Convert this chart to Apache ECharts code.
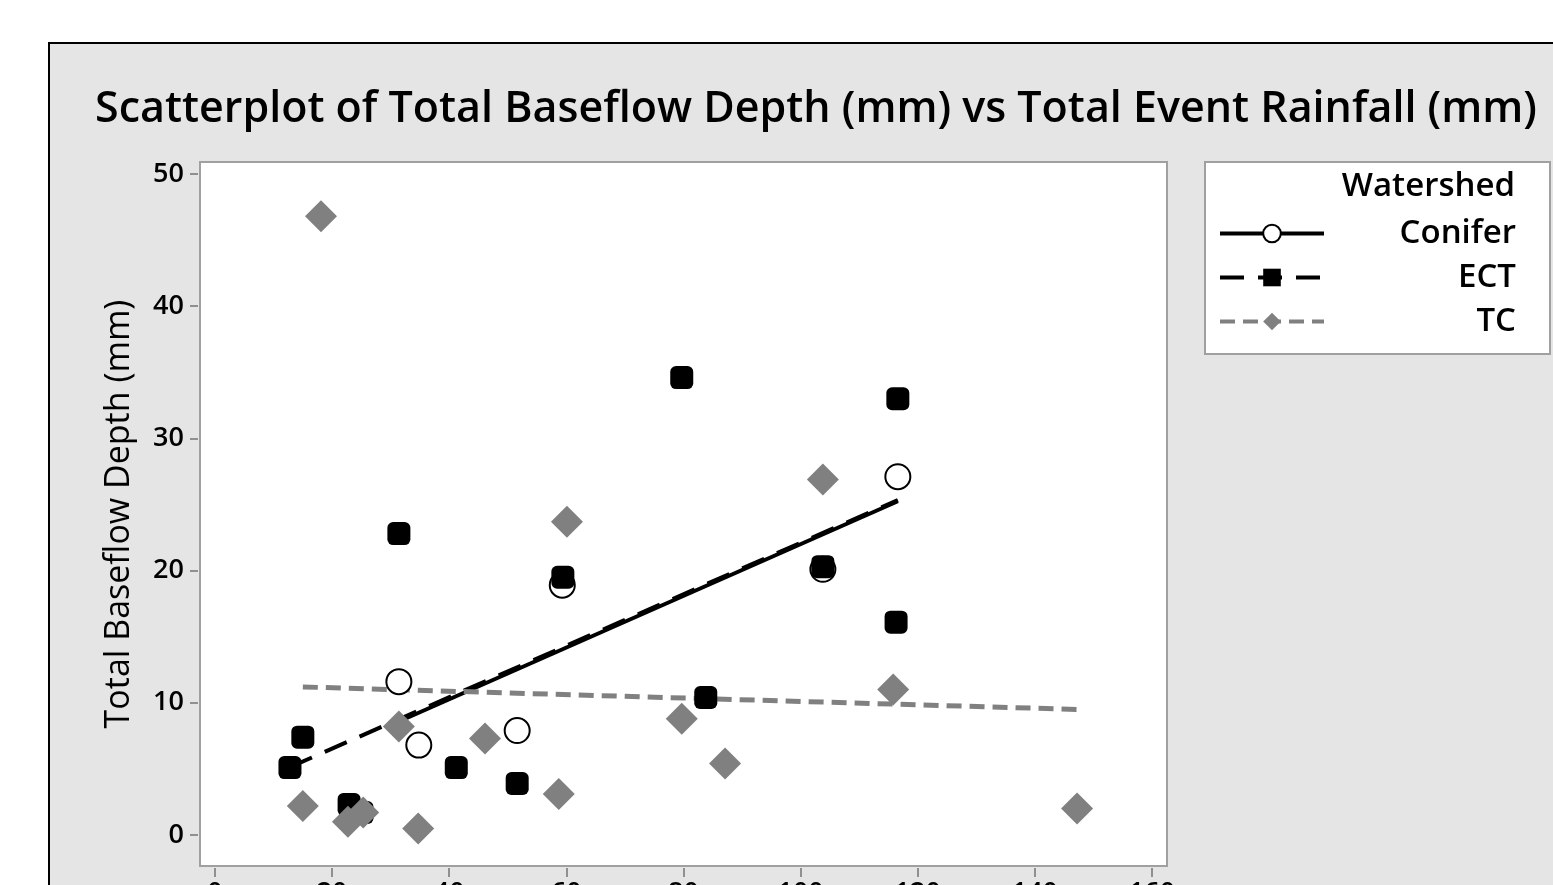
<!DOCTYPE html>
<html><head><meta charset="utf-8">
<script src="https://cdn.jsdelivr.net/npm/echarts@6/dist/echarts.min.js"></script>
<style>html,body{margin:0;padding:0;background:#fff}#c{width:1553px;height:885px}</style>
</head><body><div id="c"></div>
<script>
// ---- data ----
const xTicks = [0, 20, 40, 60, 80, 100, 120, 140, 160];
const yTicks = [0, 10, 20, 30, 40, 50];

const coniferRain = [31.4, 34.8, 51.6, 59.3, 103.8, 116.6];
const coniferBase = [11.6, 6.8, 7.9, 18.9, 20.1, 27.1];

const ectRain = [12.8, 15.0, 22.9, 25.1, 31.4, 41.2, 51.6, 59.4, 79.7, 83.8, 103.8, 116.6, 116.3];
const ectBase = [5.1, 7.4, 2.3, 1.7, 22.8, 5.1, 3.9, 19.5, 34.6, 10.4, 20.3, 33.0, 16.1];

const tcRain = [18.1, 15.0, 22.7, 25.3, 31.4, 34.7, 46.1, 58.7, 60.1, 79.7, 87.1, 103.8, 115.8, 147.2];
const tcBase = [46.8, 2.2, 1.0, 1.7, 8.2, 0.5, 7.3, 3.1, 23.7, 8.8, 5.4, 26.9, 11.0, 2.0];

// ---- helpers ----
function pairs(xs, ys) { return xs.map((x, i) => [x, ys[i]]); }
function fitLine(xs, ys) {
  const n = xs.length;
  const mx = xs.reduce((a, b) => a + b, 0) / n;
  const my = ys.reduce((a, b) => a + b, 0) / n;
  let sxy = 0, sxx = 0;
  for (let i = 0; i < n; i++) { sxy += (xs[i] - mx) * (ys[i] - my); sxx += (xs[i] - mx) ** 2; }
  const b = sxy / sxx, a = my - b * mx;
  const x0 = Math.min(...xs), x1 = Math.max(...xs);
  return [[x0, a + b * x0], [x1, a + b * x1]];
}

const FONT = '"Open Sans", "Noto Sans", sans-serif';
const GREY = '#808080';
const FRAME = '#a0a0a0';

const chart = echarts.init(document.getElementById('c'), null, { renderer: 'canvas' });
chart.setOption({
  backgroundColor: '#ffffff',
  animation: false,
  graphic: [{
    type: 'rect', z: -10, silent: true,
    shape: { x: 49, y: 43, width: 1600, height: 900 },
    style: { fill: '#e5e5e5', stroke: '#000', lineWidth: 2 }
  }],
  title: [{
    text: 'Scatterplot of Total Baseflow Depth (mm) vs Total Event Rainfall (mm)',
    left: 816, top: 88, textAlign: 'center', padding: 0,
    textStyle: { fontFamily: FONT, fontSize: 43, fontWeight: 600, color: '#000' }
  }, {
    text: 'Watershed', right: 38, top: 170, padding: 0,
    textStyle: { fontFamily: FONT, fontSize: 33, fontWeight: 600, color: '#000' }
  }],
  legend: {
    orient: 'vertical', left: 1205, top: 162,
    padding: [55, 34, 16, 13],
    itemWidth: 104, itemHeight: 22, itemGap: 11,
    backgroundColor: '#fff', borderColor: FRAME, borderWidth: 2, borderRadius: 0,
    data: ['Conifer', 'ECT', 'TC'],
    formatter: '{n|{name}}',
    lineStyle: { width: 4 },
    textStyle: {
      fontFamily: FONT, fontSize: 33, fontWeight: 600, color: '#000',
      rich: { n: { width: 187, align: 'right', fontFamily: FONT, fontSize: 33, fontWeight: 600, color: '#000' } }
    }
  },
  grid: {
    left: 200, top: 162, width: 967, height: 704,
    outerBoundsMode: 'none', containLabel: false,
    show: true, backgroundColor: '#fff', borderColor: FRAME, borderWidth: 2
  },
  xAxis: {
    type: 'value', min: -2.56, max: 162.56, offset: 2,
    axisLine: { show: false, onZero: false }, splitLine: { show: false },
    axisTick: { show: true, length: 9, customValues: xTicks, lineStyle: { color: '#909090', width: 2 } },
    axisLabel: { customValues: xTicks, margin: 12, fontFamily: FONT, fontSize: 27, fontWeight: 600, color: '#000' }
  },
  yAxis: {
    type: 'value', min: -2.345, max: 50.908, offset: 2,
    name: 'Total Baseflow Depth (mm)', nameLocation: 'middle', nameGap: 62, nameRotate: 90,
    nameTextStyle: { fontFamily: FONT, fontSize: 34, fontWeight: 500, color: '#000' },
    axisLine: { show: false, onZero: false }, splitLine: { show: false },
    axisTick: { show: true, length: 8, customValues: yTicks, lineStyle: { color: '#909090', width: 2 } },
    axisLabel: { customValues: yTicks, margin: 14, fontFamily: FONT, fontSize: 27, fontWeight: 600, color: '#000' }
  },
  series: [
    { name: 'Conifer', type: 'line', data: fitLine(coniferRain, coniferBase), symbol: 'emptyCircle', showSymbol: false,
      lineStyle: { color: '#000', width: 4, type: 'solid' }, itemStyle: { color: '#000' }, z: 2 },
    { name: 'ECT', type: 'line', data: fitLine(ectRain, ectBase), symbol: 'rect', showSymbol: false,
      lineStyle: { color: '#000', width: 4, type: [24, 14] }, itemStyle: { color: '#000' }, z: 2 },
    { name: 'TC', type: 'line', data: fitLine(tcRain, tcBase), symbol: 'diamond', showSymbol: false,
      lineStyle: { color: GREY, width: 5, type: [15, 8] }, itemStyle: { color: GREY }, z: 2 },
    { name: 'Conifer pts', type: 'scatter', data: pairs(coniferRain, coniferBase), symbol: 'circle', symbolSize: 25, clip: false,
      itemStyle: { color: '#fff', borderColor: '#000', borderWidth: 2, opacity: 1 }, z: 3 },
    { name: 'ECT pts', type: 'scatter', data: pairs(ectRain, ectBase), symbol: 'roundRect', symbolSize: 23, clip: false,
      itemStyle: { color: '#000', opacity: 1 }, z: 4 },
    { name: 'TC pts', type: 'scatter', data: pairs(tcRain, tcBase), symbol: 'diamond', symbolSize: 32, clip: false,
      itemStyle: { color: GREY, opacity: 1 }, z: 5 }
  ]
});
</script></body></html>
